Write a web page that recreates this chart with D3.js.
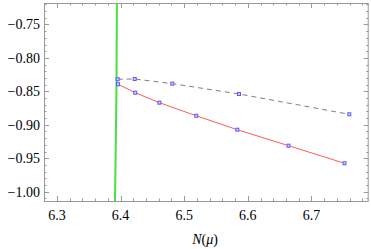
<!DOCTYPE html>
<html>
<head>
  <script src="https://cdnjs.cloudflare.com/ajax/libs/d3/7.8.5/d3.min.js"></script>
  <style>
    body { margin: 0; background: #fff; }
    svg { display: block; }
  </style>
</head>
<body>
<div id="chart"></div>
<script>
// red series (solid line)
var red_x = [6.396, 6.423, 6.461, 6.519, 6.5835, 6.664, 6.752];
var red_y = [-0.8394, -0.852, -0.8669, -0.8865, -0.9073, -0.9312, -0.9575];

// gray dashed series
var dash_x = [6.3954, 6.4222, 6.4813, 6.5862, 6.7596];
var dash_y = [-0.8319, -0.8315, -0.8385, -0.8539, -0.8843];

// green near-vertical line
var green_x = [6.3943, 6.3935, 6.3912];
var green_y = [-0.70, -0.85, -1.02];

var x_ticks = [6.3, 6.4, 6.5, 6.6, 6.7];
var y_ticks = [-1.00, -0.95, -0.90, -0.85, -0.80, -0.75];

var width = 371, height = 249;
var pLeft = 44, pRight = 368.7, pTop = 3, pBottom = 201;
var serif = "'Liberation Serif', 'Times New Roman', Times, serif";

var svg = d3.select('#chart').append('svg')
    .attr('width', width)
    .attr('height', height)
    .attr('font-family', serif)
    .attr('font-size', 14);

var x = d3.scaleLinear().domain([6.2796, 6.7901]).range([pLeft, pRight]);
var y = d3.scaleLinear().domain([-1.0139, -0.7179]).range([pBottom, pTop]);

svg.append('clipPath').attr('id', 'clip')
  .append('rect')
    .attr('x', pLeft).attr('y', pTop)
    .attr('width', pRight - pLeft).attr('height', pBottom - pTop);

//----------------------------------------
// frame + ticks
var frameColor = '#9a9a9a';
var minorX = d3.range(6.28, 6.79, 0.02).filter(function(v) {
    return Math.abs(v * 10 - Math.round(v * 10)) > 1e-6;
});
var minorY = d3.range(-1.01, -0.715, 0.01).filter(function(v) {
    return Math.abs(v * 20 - Math.round(v * 20)) > 1e-6;
});

var g = svg.append('g').attr('stroke', frameColor).attr('stroke-width', 1);

function tickX(v, len) {
    var px = Math.round(x(v)) + 0.5;
    g.append('line').attr('x1', px).attr('x2', px).attr('y1', pBottom).attr('y2', pBottom - len);
    g.append('line').attr('x1', px).attr('x2', px).attr('y1', pTop).attr('y2', pTop + len);
}
function tickY(v, len) {
    var py = Math.round(y(v)) + 0.5;
    g.append('line').attr('y1', py).attr('y2', py).attr('x1', pLeft).attr('x2', pLeft + len);
    g.append('line').attr('y1', py).attr('y2', py).attr('x1', pRight).attr('x2', pRight - len);
}
x_ticks.forEach(function(v) { tickX(v, 5); });
minorX.forEach(function(v) { tickX(v, 2.5); });
y_ticks.forEach(function(v) { tickY(v, 5); });
minorY.forEach(function(v) { tickY(v, 2.5); });

g.append('rect')
    .attr('x', pLeft + 0.5).attr('y', pTop + 0.5)
    .attr('width', pRight - pLeft - 1).attr('height', pBottom - pTop)
    .attr('fill', 'none');

// tick labels
svg.selectAll('.xl').data(x_ticks).enter().append('text')
    .attr('x', function(d) { return x(d); })
    .attr('y', 220)
    .attr('text-anchor', 'middle')
    .text(function(d) { return d.toFixed(1); });

svg.selectAll('.yl').data(y_ticks).enter().append('text')
    .attr('x', 40)
    .attr('y', function(d) { return y(d) + 5; })
    .attr('text-anchor', 'end')
    .text(function(d) { return '\u2212' + Math.abs(d).toFixed(2); });

// axis label
var lab = svg.append('text').attr('x', 205).attr('y', 244).attr('text-anchor', 'middle');
lab.append('tspan').attr('font-style', 'italic').text('N');
lab.append('tspan').text('(');
lab.append('tspan').attr('font-style', 'italic').text('\u03bc');
lab.append('tspan').text(')');

//----------------------------------------
// lines
var plot = svg.append('g').attr('clip-path', 'url(#clip)');
var line = d3.line().x(function(d) { return x(d[0]); }).y(function(d) { return y(d[1]); });

plot.append('path')
    .attr('d', line(d3.zip(green_x, green_y)))
    .attr('fill', 'none').attr('stroke', '#44e044').attr('stroke-width', 2);

plot.append('path')
    .attr('d', line(d3.zip(dash_x, dash_y)))
    .attr('fill', 'none').attr('stroke', '#808080').attr('stroke-width', 1)
    .attr('stroke-dasharray', '5,4');

plot.append('path')
    .attr('d', line(d3.zip(red_x, red_y)))
    .attr('fill', 'none').attr('stroke', '#ff5a5a').attr('stroke-width', 1);

// square markers
var pts = d3.zip(red_x, red_y).concat(d3.zip(dash_x, dash_y));
plot.selectAll('.pt').data(pts).enter().append('rect')
    .attr('x', function(d) { return x(d[0]) - 1.5; })
    .attr('y', function(d) { return y(d[1]) - 1.5; })
    .attr('width', 3).attr('height', 3)
    .attr('fill', '#d0d0ff')
    .attr('stroke', '#5a5aff').attr('stroke-width', 1);
</script>
</body>
</html>
